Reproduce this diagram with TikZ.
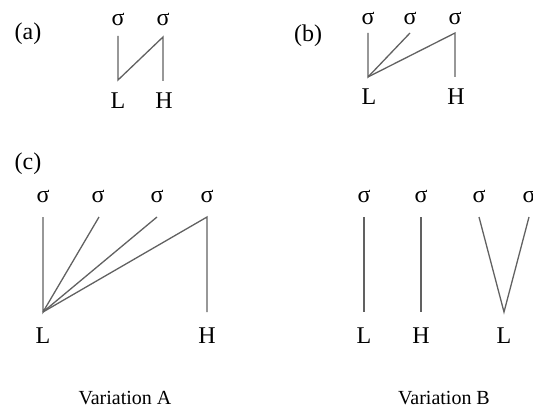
\documentclass[tikz,border=0pt]{standalone}
\usepackage{fontspec}
\setmainfont{Liberation Serif}
\begin{document}
\begin{tikzpicture}[x=1pt,y=-1pt,
  lbl/.style={inner sep=0pt,font=\fontsize{24}{26}\selectfont},
  captext/.style={inner sep=0pt,font=\fontsize{20}{22}\selectfont},
  tie/.style={draw=black!62,line width=1.3pt}]
\useasboundingbox (0,0) rectangle (533,412);
% (a)
\node[lbl] (la) at (28,34) {(a)};
\node[lbl] (a1) at (118,19) {σ};
\node[lbl] (a2) at (163,19) {σ};
\node[lbl] (aL) at (118,101) {L};
\node[lbl] (aH) at (164,101) {H};
\coordinate (a1b) at (118,36);
\coordinate (a2b) at (163,37);
\coordinate (aLt) at (118,80);
\coordinate (aHt) at (163,81);
\draw[tie] (a1b) -- (aLt) -- (a2b) -- (aHt);
% (b)
\node[lbl] (lb) at (308,36) {(b)};
\node[lbl] (b1) at (368,18) {σ};
\node[lbl] (b2) at (410,18) {σ};
\node[lbl] (b3) at (455,18) {σ};
\node[lbl] (bL) at (369,97) {L};
\node[lbl] (bH) at (456,97) {H};
\coordinate (b1b) at (368,33);
\coordinate (b2b) at (410,33);
\coordinate (b3b) at (455,33);
\coordinate (bLt) at (368,77);
\coordinate (bHt) at (455,77);
\draw[tie] (b1b) -- (bLt) -- (b2b);
\draw[tie] (bLt) -- (b3b) -- (bHt);
% (c) Variation A
\node[lbl] (lc) at (28,164) {(c)};
\node[lbl] (c1) at (43,196) {σ};
\node[lbl] (c2) at (98,196) {σ};
\node[lbl] (c3) at (157,196) {σ};
\node[lbl] (c4) at (207,196) {σ};
\node[lbl] (cL) at (43,336) {L};
\node[lbl] (cH) at (207,336) {H};
\coordinate (c1b) at (43,217);
\coordinate (c2b) at (99,217);
\coordinate (c3b) at (157,217);
\coordinate (c4b) at (207,217);
\coordinate (cLt) at (43,312);
\coordinate (cHt) at (207,312);
\draw[tie] (c1b) -- (cLt) -- (c2b);
\draw[tie] (cLt) -- (c3b);
\draw[tie] (cLt) -- (c4b) -- (cHt);
\node[captext] (va) at (125,398) {Variation A};
% Variation B
\node[lbl] (d1) at (364,196) {σ};
\node[lbl] (d2) at (421,196) {σ};
\node[lbl] (d3) at (479,196) {σ};
\node[lbl] (d4) at (529,196) {σ};
\node[lbl] (dL1) at (364,336) {L};
\node[lbl] (dH) at (421,336) {H};
\node[lbl] (dL2) at (504,336) {L};
\coordinate (d1b) at (364,217);
\coordinate (d2b) at (421,217);
\coordinate (d3b) at (479,217);
\coordinate (d4b) at (529,217);
\coordinate (dL1t) at (364,312);
\coordinate (dHt) at (421,312);
\coordinate (dL2t) at (504,312);
\draw[tie] (d1b) -- (dL1t);
\draw[tie] (d2b) -- (dHt);
\draw[tie] (d3b) -- (dL2t) -- (d4b);
\node[captext] (vb) at (444,398) {Variation B};
\end{tikzpicture}
\end{document}
